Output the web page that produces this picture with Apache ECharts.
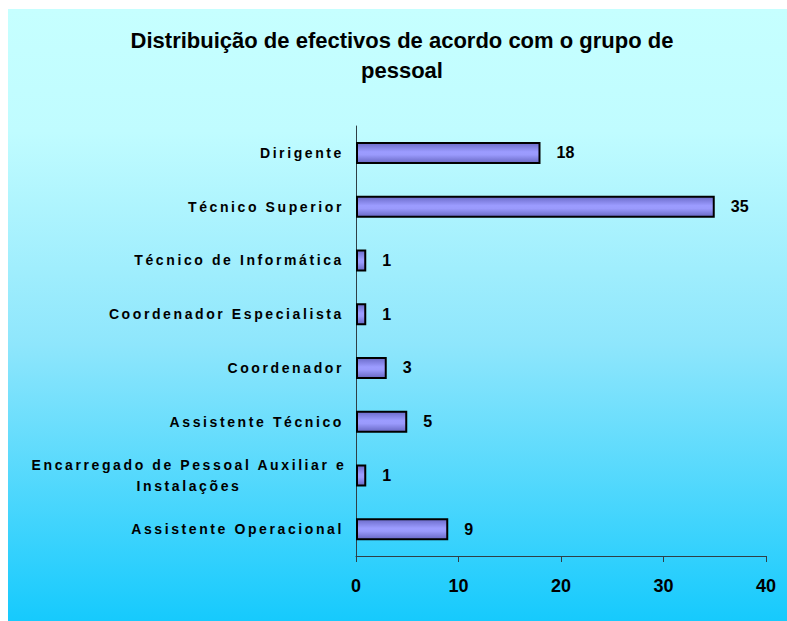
<!DOCTYPE html>
<html><head><meta charset="utf-8">
<script src="https://cdn.jsdelivr.net/npm/echarts@6/dist/echarts.min.js"></script>
<style>
html,body{margin:0;padding:0;background:#fff;}
#c{width:787px;height:621px;}
#c text[style*="Arial"]{letter-spacing:2.6px;}
</style></head><body><div id="c"></div>
<script>
const titleText = 'Distribuição de efectivos de acordo com o grupo de\npessoal';
const categories = ['Dirigente','Técnico Superior','Técnico de Informática','Coordenador Especialista','Coordenador','Assistente Técnico','Encarregado de Pessoal Auxiliar e Instalações','Assistente Operacional'];
const values = [18,35,1,1,3,5,1,9];
const xTicks = [0,10,20,30,40];

function wrap(s){
  if (s.length <= 34) return '{a|' + s + '}';
  const i = s.lastIndexOf(' ', 34);
  return '{c|' + s.slice(0,i) + '}\n{c|' + s.slice(i+1) + '}';
}

const chart = echarts.init(document.getElementById('c'), null, {renderer:'svg'});
chart.setOption({
  backgroundColor:'#ffffff',
  animation:false,
  graphic:[{type:'rect', z:-100, shape:{x:8,y:9,width:779,height:612},
    style:{fill:new echarts.graphic.LinearGradient(0,0,0,1,[
      {offset:0,color:'#c6ffff'},{offset:0.2,color:'#c0fcff'},{offset:0.55,color:'#8ee6fc'},{offset:1,color:'#16cafd'}])}}],
  title:{text:titleText,left:397,textAlign:'center',top:20,
    textStyle:{fontFamily:'Liberation Sans',fontWeight:'bold',fontSize:22,lineHeight:30,color:'#000'}},
  grid:{left:356,right:21,top:126,bottom:65,containLabel:false},
  xAxis:{type:'value',min:xTicks[0],max:xTicks[xTicks.length-1],interval:10,
    axisLine:{show:true,lineStyle:{color:'#2f3f45',width:1}},
    axisTick:{show:true,length:6,lineStyle:{color:'#2f3f45'}},
    splitLine:{show:false},
    axisLabel:{margin:21,fontFamily:'Liberation Sans',fontWeight:'bold',fontSize:18,color:'#000'}},
  yAxis:{type:'category',inverse:true,data:categories,
    axisLine:{show:true,lineStyle:{color:'#2f3f45',width:1}},
    axisTick:{show:false},
    axisLabel:{margin:12,formatter:wrap,
      rich:{
        a:{fontFamily:'Arial',fontWeight:'bold',fontSize:14,color:'#000'},
        c:{fontFamily:'Arial',fontWeight:'bold',fontSize:14,color:'#000',width:310,align:'center',lineHeight:21}
      }}},
  series:[{type:'bar',data:values,barWidth:22,
    itemStyle:{borderColor:'#000',borderWidth:2,
      color:new echarts.graphic.LinearGradient(0,0,0,1,[
        {offset:0,color:'#6a6ac8'},{offset:0.45,color:'#9c9cff'},{offset:0.6,color:'#9a9afc'},{offset:1,color:'#6868c4'}])},
    label:{show:true,position:'right',distance:16,fontFamily:'Liberation Sans',fontWeight:'bold',fontSize:16,color:'#000'}}]
});
</script></body></html>
